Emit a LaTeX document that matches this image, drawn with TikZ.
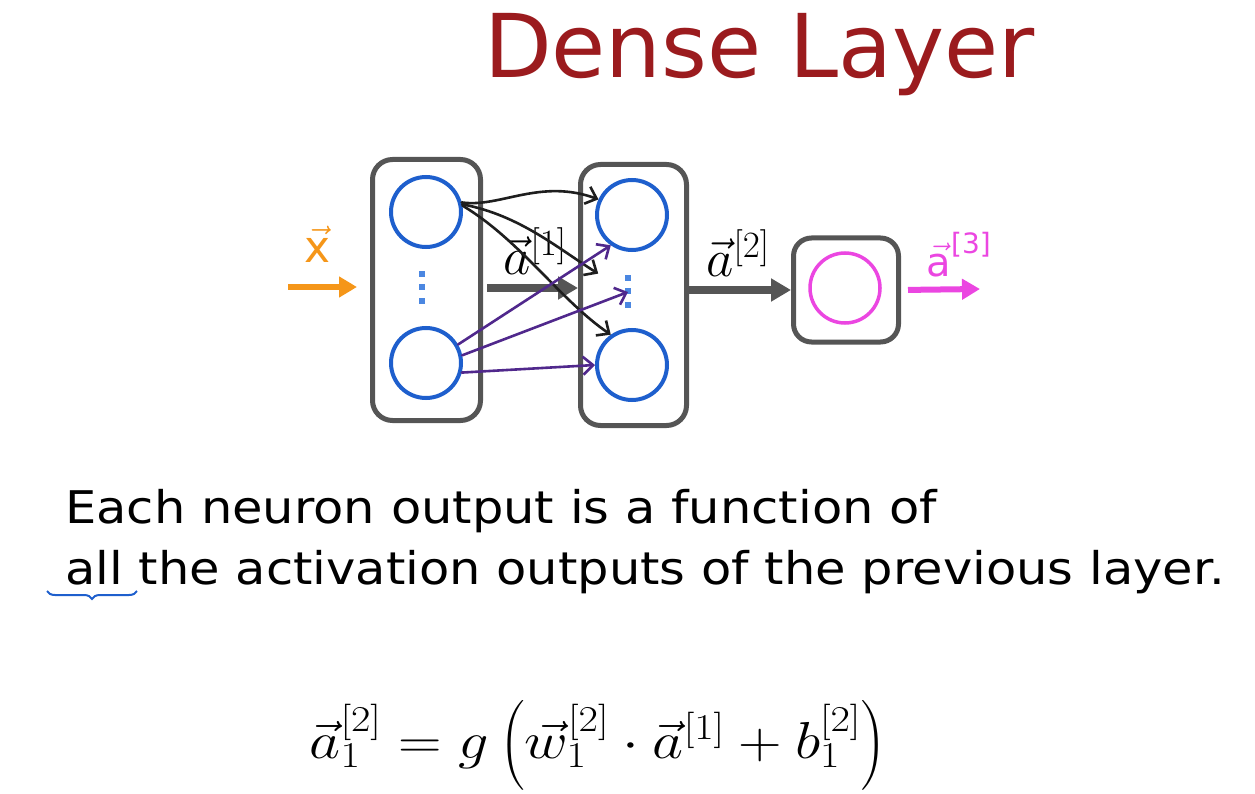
\RequirePackage{fix-cm}
\documentclass[tikz,border=0pt]{standalone}
\usepackage{amsmath}
\usepackage{fontspec}
\setmainfont{DejaVu Sans}
\newfontfamily\bodyfont[FakeStretch=1.1]{DejaVu Sans}
\usepackage{xcolor}
\usetikzlibrary{positioning,arrows.meta,decorations.pathreplacing}

\definecolor{titlered}{RGB}{155,27,30}
\definecolor{boxgray}{RGB}{85,85,85}
\definecolor{unitblue}{RGB}{30,95,205}
\definecolor{dotblue}{RGB}{75,135,225}
\definecolor{xorange}{RGB}{245,150,25}
\definecolor{apink}{RGB}{235,70,225}
\definecolor{handpurple}{RGB}{80,40,140}
\definecolor{handblack}{RGB}{30,30,30}

\begin{document}
\begin{tikzpicture}[x=1pt, y=-1pt,
  layerbox/.style={draw=boxgray, line width=5pt, rounded corners=20pt, minimum width=108pt, minimum height=261pt, inner sep=0pt},
  unit/.style={circle, draw=unitblue, line width=4pt, minimum size=70pt, inner sep=0pt},
  flow/.style={draw=boxgray, line width=7pt, -{Triangle[length=20pt,width=22pt]}},
  hand/.style={line width=2.6pt, line cap=round, -{Straight Barb[length=10pt,width=18pt]}},
  lbl/.style={inner sep=0pt, font=\fontsize{53}{56}\selectfont},
  bodytext/.style={anchor=base west, inner sep=0pt, font=\bodyfont\fontsize{45}{50}\selectfont}]
\useasboundingbox (0,0) rectangle (1255,794);

% title
\node (title) [anchor=base, text=titlered, font=\fontsize{88}{92}\selectfont] at (759.5,78) {Dense Layer};

% layers
\node (lay1) [layerbox] at (426.5,290) {};
\node (lay2) [layerbox, minimum width=106pt] at (633.5,295) {};
\node (lay3) [layerbox, minimum width=105pt, minimum height=104pt, rounded corners=18pt] at (846,290) {};

\node (lt) [unit] at (426,212) {};
\node (lb) [unit] at (426,363) {};
\node (mt) [unit] at (632,215) {};
\node (mb) [unit] at (632,365) {};
\node (out) [unit, draw=apink, line width=3.5pt] at (845,288) {};

\foreach \y in {274,287,301} {
  \fill[dotblue] (419,\y-3) rectangle ++(6,6);
  \fill[dotblue] (625,\y+1) rectangle ++(6,6);
}
\coordinate (md) at (628,292);

% input and output arrows
\coordinate (xin) at (288,287);
\coordinate (aout) at (980,289);
\draw[draw=xorange, line width=5pt, -{Triangle[length=18pt,width=20pt]}, shorten >=13pt] (xin) -- (lay1.west |- xin);
\node (xlbl) [lbl, text=xorange, font=\fontsize{44}{48}\selectfont] at (318,244) {$\vec{\mathrm{x}}$};

\draw[flow] (lay1.east |- 0,288) ++(4,0) -- (lay2.west |- 0,288);
\node (a1lbl) [lbl] at (535,251) {$\vec{a}^{[1]}$};

\draw[flow] (lay2.east |- lay3.west) -- (lay3.west);
\node (a2lbl) [lbl] at (738,253) {$\vec{a}^{[2]}$};

\draw[draw=apink, line width=6pt, -{Triangle[length=18pt,width=20pt]}, shorten <=7pt] (lay3.east) -- (aout);
\node (a3lbl) [lbl, text=apink, font=\fontsize{40}{44}\selectfont] at (959,255) {$\vec{\text{a}}^{\text{[3]}}$};

% hand drawn connections
\draw[hand, handblack] (lt.15) .. controls (500,208) and (540,178) .. (mt.155);
\draw[hand, handblack] (lt.12) .. controls (520,215) and (560,250) .. (md) [shorten >=35pt];
\draw[hand, handblack] (lt.10) .. controls (520,240) and (560,300) .. (mb.125);
\draw[hand, handpurple] (lb.30) -- (mt.235);
\draw[hand, handpurple] (lb.12) -- (md);
\draw[hand, handpurple] (lb.-15) -- (mb.180);

% text
\node (line1) [bodytext] at (65,523) {Each neuron output is a function of};
\node (line2) [bodytext] at (65,584) {all the activation outputs of the previous layer.};
\draw[unitblue, line width=2pt, decorate, decoration={brace, mirror, amplitude=8pt}] (47,591) -- (137,591);

% formula
\node (formula) [inner sep=0pt, font=\fontsize{52}{56}\selectfont] at (598,745)
  {\scalebox{1.16}[1]{$\vec{a}_1^{[2]} = g\left(\vec{w}_1^{[2]}\cdot\vec{a}^{[1]} + b_1^{[2]}\right)$}};
\end{tikzpicture}
\end{document}
